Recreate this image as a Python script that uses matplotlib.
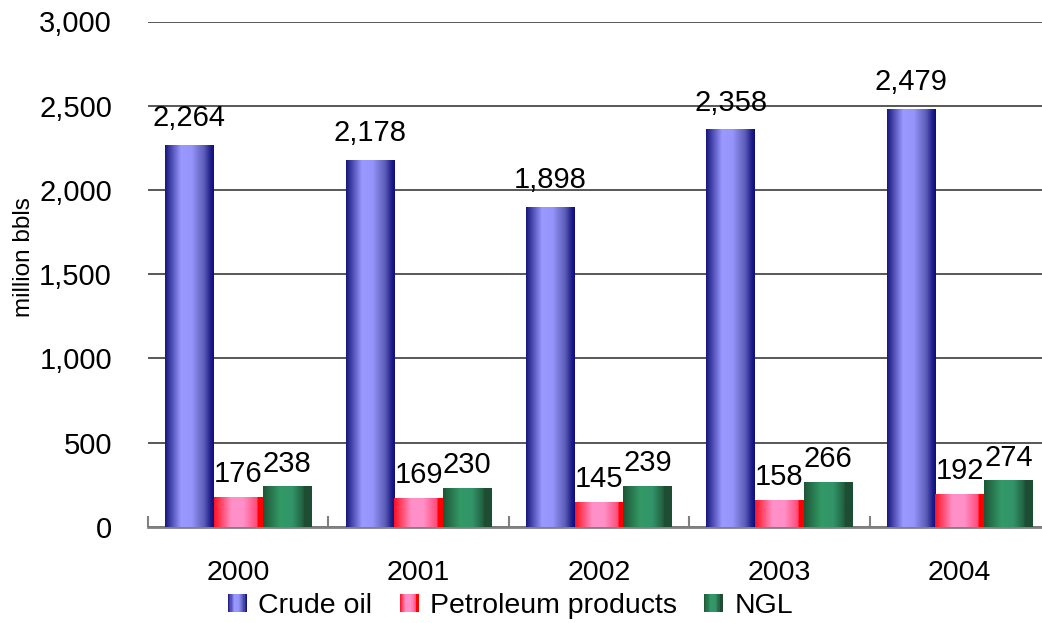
import matplotlib
matplotlib.use("Agg")
import matplotlib.pyplot as plt
import numpy as np
from matplotlib.colors import LinearSegmentedColormap
from matplotlib.legend_handler import HandlerBase
from matplotlib.patches import Rectangle
from matplotlib.ticker import FuncFormatter, MultipleLocator, FixedLocator

years = ["2000", "2001", "2002", "2003", "2004"]
series_names = ["Crude oil", "Petroleum products", "NGL"]
crude_oil = [2264, 2178, 1898, 2358, 2479]
petroleum_products = [176, 169, 145, 158, 192]
ngl = [238, 230, 239, 266, 274]

plt.rcParams["font.family"] = ["Liberation Sans", "DejaVu Sans"]

# shading across the width of each bar: dark edge, light body, dark edge
crude_cmap = LinearSegmentedColormap.from_list("crude", [
    (0.0, "#16167c"), (0.33, "#9999ff"), (0.55, "#9494fa"),
    (0.8, "#5c5cb8"), (0.93, "#20208a"), (1.0, "#0c0c80")])
petro_cmap = LinearSegmentedColormap.from_list("petro", [
    (0.0, "#ff1020"), (0.35, "#ff8fc8"), (0.6, "#ff90c8"),
    (0.88, "#ff4a78"), (0.9, "#ff0000"), (1.0, "#ff0000")])
ngl_cmap = LinearSegmentedColormap.from_list("ngl", [
    (0.0, "#1d5536"), (0.35, "#339966"), (0.6, "#32946a"),
    (0.82, "#22603f"), (0.84, "#1d4d33"), (1.0, "#1d4d33")])
cmaps = [crude_cmap, petro_cmap, ngl_cmap]


class StripeHandler(HandlerBase):
    def __init__(self, cmap):
        super().__init__()
        self.cmap = cmap

    def create_artists(self, legend, orig_handle, xdescent, ydescent,
                       width, height, fontsize, trans):
        n = 16
        out = []
        for j in range(n):
            out.append(Rectangle((-xdescent + width * j / n, -ydescent),
                                 width / n, height,
                                 facecolor=self.cmap((j + 0.5) / n),
                                 edgecolor="none", transform=trans))
        return out


W, H = 1042, 623
fig = plt.figure(figsize=(W / 100, H / 100), dpi=100)
left, right, top, bottom = 148, 1050, 21.5, 526.7
ax = fig.add_axes([left / W, 1 - bottom / H, (right - left) / W, (bottom - top) / H])

values = [crude_oil, petroleum_products, ngl]
bw = 0.27
x = np.arange(len(years))
label_gap = [19, 15, 15]

for k, (vals, cmap) in enumerate(zip(values, cmaps)):
    bars = ax.bar(x + (k - 1) * bw, vals, width=bw, color=cmap(0.4),
                  linewidth=0, zorder=2)
    grad = np.linspace(0, 1, 256)[np.newaxis, :]
    for rect, v in zip(bars, vals):
        x0 = rect.get_x()
        ax.imshow(grad, cmap=cmap, aspect="auto", interpolation="bilinear",
                  extent=(x0, x0 + rect.get_width(), 0, rect.get_height()),
                  zorder=3)
        ax.annotate(f"{v:,}", (x0 + rect.get_width() / 2, v),
                    xytext=(0, label_gap[k]), textcoords="offset pixels",
                    ha="center", va="baseline", fontsize=21, zorder=4)

ax.set_xlim(-0.5, len(years) - 0.5)
ax.set_ylim(0, 3000)

ax.yaxis.set_major_locator(MultipleLocator(500))
ax.yaxis.set_major_formatter(FuncFormatter(lambda v, p: f"{v:,.0f}"))
ax.tick_params(axis="y", length=0, pad=26, labelsize=21)
ax.grid(axis="y", color="#2a2a2a", linewidth=1.1)
ax.set_axisbelow(True)

ax.set_xticks(x)
ax.set_xticklabels(years)
ax.xaxis.set_minor_locator(FixedLocator(np.arange(len(years) + 1) - 0.5))
ax.tick_params(axis="x", which="major", length=0, pad=24, labelsize=20.5)
ax.tick_params(axis="x", which="minor", direction="in", length=8,
               width=1.5, color="#808080")

for side in ["left", "right", "top"]:
    ax.spines[side].set_visible(False)
ax.spines["bottom"].set_color("#808080")
ax.spines["bottom"].set_linewidth(2)

fig.text(24 / W, 1 - 257 / H, "million bbls", rotation=90,
         ha="center", va="center", fontsize=17.5)

proxies = [Rectangle((0, 0), 1, 1) for _ in series_names]
ax.legend(proxies, series_names,
          handler_map={p: StripeHandler(c) for p, c in zip(proxies, cmaps)},
          loc="center left", bbox_to_anchor=(228 / W, 1 - 606 / H),
          bbox_transform=fig.transFigure, ncol=3, frameon=False,
          fontsize=20.5, handlelength=0.67, handleheight=0.63,
          handletextpad=0.4, columnspacing=0.95, borderpad=0,
          borderaxespad=0)

fig.savefig("out.png", dpi=100)
